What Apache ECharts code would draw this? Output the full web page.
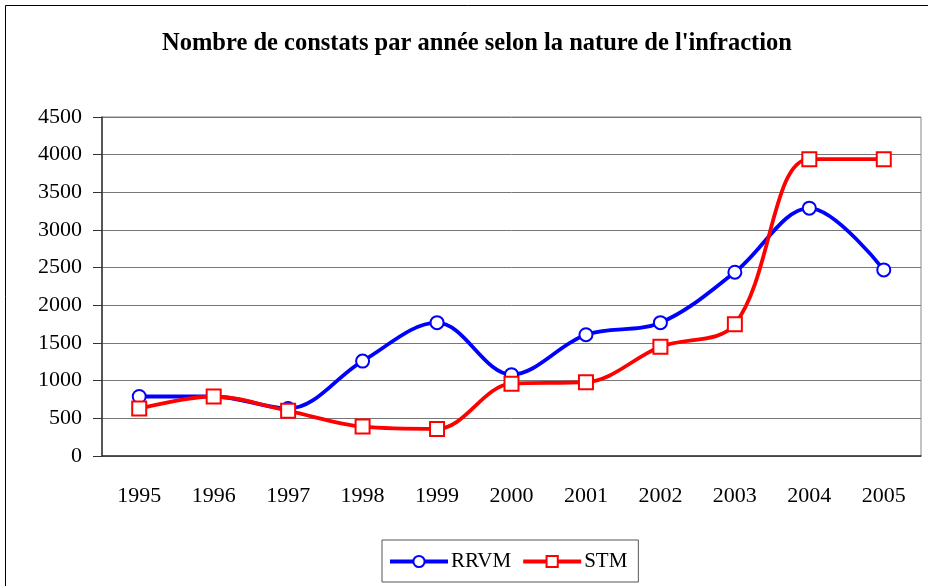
<!DOCTYPE html>
<html>
<head>
<meta charset="utf-8">
<script src="https://cdn.jsdelivr.net/npm/echarts@6/dist/echarts.min.js"></script>
<style>
  html, body { margin: 0; padding: 0; background: #fff; }
  #chart { width: 928px; height: 586px; }
</style>
</head>
<body>
<div id="chart"></div>
<script>
// années
var years = ["1995", "1996", "1997", "1998", "1999", "2000", "2001", "2002", "2003", "2004", "2005"];
// constats RRVM
var rrvm = [790, 790, 630, 1260, 1770, 1080, 1610, 1770, 2440, 3290, 2470];
// constats STM
var stm = [630, 790, 600, 390, 360, 960, 980, 1450, 1750, 3940, 3940];

var serif = "'Liberation Serif', 'DejaVu Serif', serif";

var chart = echarts.init(document.getElementById("chart"));
var option = {
  animation: false,
  backgroundColor: "#fff",
  title: {
    text: "Nombre de constats par année selon la nature de l'infraction",
    left: 157,
    top: 26,
    textStyle: { fontFamily: serif, fontSize: 24.5, fontWeight: "bold", color: "#000" }
  },
  graphic: [{
    type: "rect",
    shape: { x: 5.5, y: 5.5, width: 940, height: 600 },
    style: { fill: "none", stroke: "#000", lineWidth: 1 },
    silent: true
  }],
  legend: {
    bottom: 4,
    left: 382,
    padding: [11, 11, 10, 6],
    itemGap: 10,
    itemWidth: 58,
    itemHeight: 14,
    borderColor: "#555",
    borderWidth: 1,
    lineStyle: { width: 4 },
    textStyle: { fontFamily: serif, fontSize: 21, color: "#000", padding: [0, 0, 0, -2] },
    data: ["RRVM", "STM"]
  },
  grid: { left: 102, right: 7, top: 117, bottom: 130, show: true, borderColor: "#888", borderWidth: 1 },
  xAxis: {
    type: "category",
    data: years,
    boundaryGap: true,
    axisLine: { lineStyle: { color: "#333", width: 1.5 } },
    axisTick: { length: 9, lineStyle: { color: "#333" } },
    axisLabel: { margin: 29, fontFamily: serif, fontSize: 22, color: "#000" },
    splitLine: { show: false }
  },
  yAxis: {
    type: "value",
    min: 0,
    max: 4500,
    interval: 500,
    axisLine: { show: true, lineStyle: { color: "#333", width: 1.5 } },
    axisTick: { show: true, length: 9, lineStyle: { color: "#333" } },
    axisLabel: {
      margin: 20, fontFamily: serif, fontSize: 22, color: "#000",
      formatter: function (v) { return String(v); }
    },
    splitLine: { lineStyle: { color: "#777", width: 1 } }
  },
  series: [
    {
      name: "RRVM",
      type: "line",
      data: rrvm,
      smooth: 0.35,
      symbol: "circle",
      symbolSize: 13,
      lineStyle: { color: "#0000ff", width: 3.8 },
      itemStyle: { color: "#fff", borderColor: "#0000ff", borderWidth: 2 },
      z: 2
    },
    {
      name: "STM",
      type: "line",
      data: stm,
      smooth: 0.35,
      symbol: "rect",
      symbolSize: 14,
      lineStyle: { color: "#ff0000", width: 3.8 },
      itemStyle: { color: "#fff", borderColor: "#ff0000", borderWidth: 2 },
      z: 3
    }
  ]
};
chart.setOption(option);
</script>
</body>
</html>
